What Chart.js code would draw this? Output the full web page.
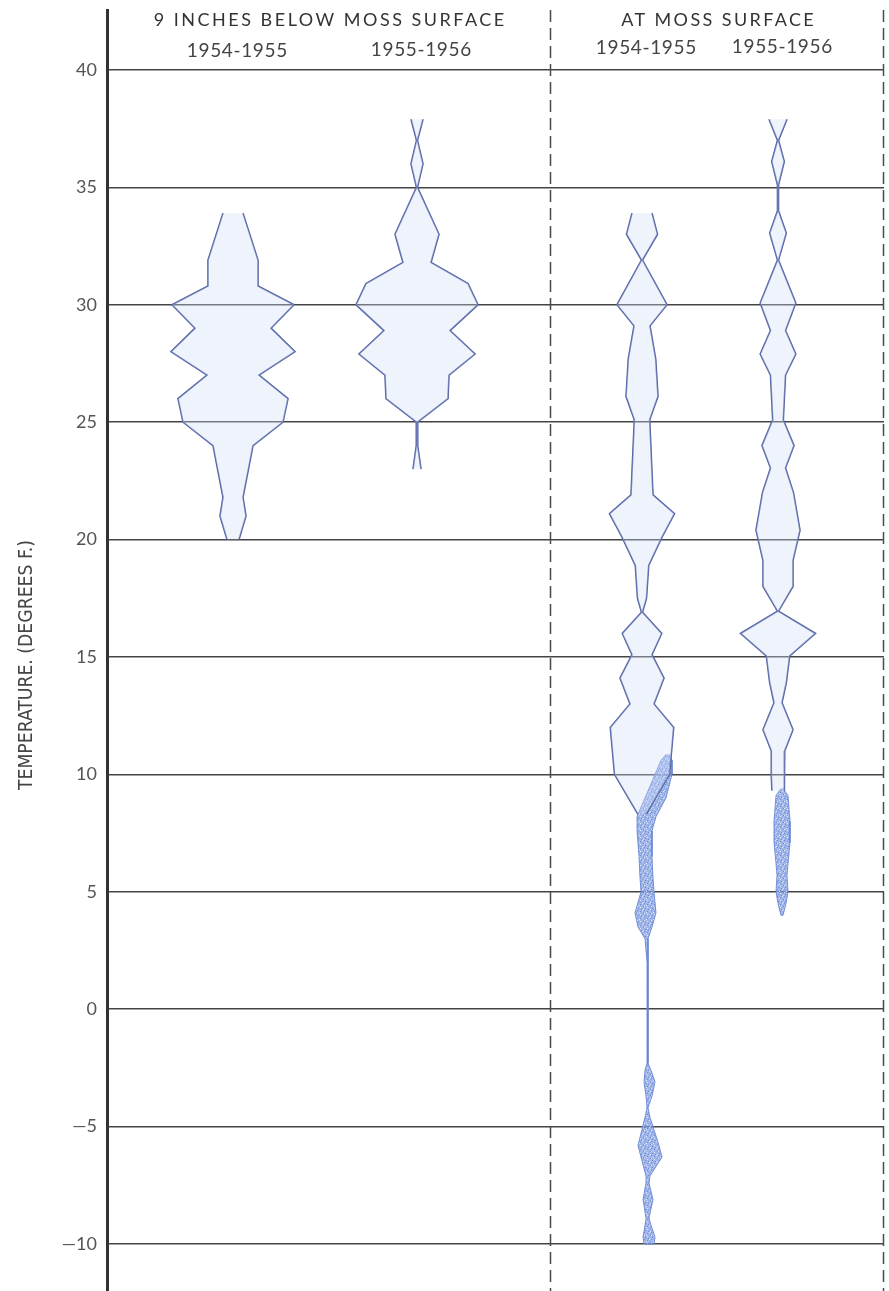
<!DOCTYPE html>
<html>
<head>
<meta charset="utf-8">
<script src="https://cdn.jsdelivr.net/npm/chart.js@4.4.1/dist/chart.umd.min.js"></script>
<style>
  html, body { margin: 0; padding: 0; background: #fff; }
  #wrap { width: 889px; height: 1291px; }
</style>
</head>
<body>
<div id="wrap"><canvas id="mossChart"></canvas></div>
<script>
// temperature axis
const tempTicks = [40, 35, 30, 25, 20, 15, 10, 5, 0, -5, -10];
const tickLabels = ['40', '35', '30', '25', '20', '15', '10', '5', '0', '—5', '—10'];
const groupTitles = ['9 INCHES BELOW MOSS SURFACE', 'AT MOSS SURFACE'];
const seasons = ['1954-1955', '1955-1956', '1954-1955', '1955-1956'];

// kite outlines: temperature (deg F) and half width of the frequency band
const belowTemp54 = [33.9, 31.9, 30.8, 30.0, 29.0, 28.0, 27.0, 26.0, 25.0, 24.0, 21.8, 21.0, 20.0];
const belowWidth54 = [10, 25, 25, 61, 38, 62, 26, 55, 50, 20, 10, 13, 6];

const belowTemp55 = [37.9, 37.0, 36.0, 35.0, 33.0, 31.8, 30.9, 30.0, 28.9, 27.9, 27.0, 26.0, 25.0, 24.0, 23.0];
const belowWidth55 = [6, 0.5, 6, 0.5, 22, 14, 51, 61, 33, 58, 32, 31, 0.5, 0.7, 4];

const surfTemp54 = [33.9, 33.0, 31.9, 30.0, 29.1, 27.7, 26.1, 25.1, 21.9, 21.1, 20.1, 18.9, 17.5, 16.9, 16.0, 15.1, 14.1, 13.0, 12.0, 10.0, 8.3];
const surfWidth54 = [10, 15.5, 0.5, 25, 8, 13.7, 16, 7.7, 11, 32.5, 20, 6.7, 4.5, 0.5, 19.7, 10, 22, 12, 31.7, 27.5, 4];

const surfTemp55 = [37.9, 37.0, 36.1, 35.1, 34.0, 33.05, 31.9, 30.07, 28.9, 27.9, 27.0, 25.1, 24.0, 23.05, 22.0, 20.4, 19.1, 18.0, 16.95, 16.0, 15.04, 13.9, 13.05, 11.9, 11.0, 9.9, 9.3];
const surfWidth55 = [9, 0.5, 6.3, 0.5, 0.5, 8.3, 0.5, 17.8, 7.5, 17.8, 7.5, 5.3, 16, 7.5, 15.5, 22, 15, 15, 0.5, 37.5, 11.7, 8.3, 4, 15, 6.7, 6.7, 6];

// stippled (dense) parts at the moss surface: temperature, half width, drift from column centre
const denseTemp54 = [10.85, 10.6, 10.0, 9.0, 8.2, 7.6, 6.5, 5.6, 5.0, 4.1, 3.5, 3.0, 2.0, -2.3, -2.6, -3.1, -3.7, -4.2, -4.6, -5.8, -6.3, -7.1, -7.4, -8.1, -8.9, -9.2, -9.7, -10.0];
const denseWidth54 = [1.5, 5.5, 8.5, 10.5, 9.5, 7.5, 6.5, 6.5, 6.5, 10.5, 7, 1.5, 0.5, 0.5, 3, 5.5, 3, 0.5, 2.5, 10.5, 10.5, 2, 1.5, 5, 1.5, 3, 6, 5];
const denseDrift54 = [25.5, 24.5, 21.5, 13.5, 4.5, 2.5, 3.5, 4.5, 5.5, 3.5, 3, 4.5, 5.5, 5.5, 6, 7.5, 7, 5.5, 5.5, 6.5, 9.5, 6, 5.5, 6, 5.5, 6, 7, 7];

const denseTemp55 = [9.4, 9.1, 8.0, 7.1, 6.2, 5.7, 5.0, 4.5, 4.0];
const denseWidth55 = [1, 6, 8, 8, 6, 5, 6, 4, 1];
const denseDrift55 = [4, 4, 4, 4, 4, 4, 4, 4, 4];

// layout along the horizontal scale
const columnAt = [126, 310, 535, 671];
const groupSplit = 444;
const xSpan = 777;

const ink = '#5060a2';
const kiteFill = 'rgba(205, 222, 246, 0.35)';

function stipple() {
    const c = document.createElement('canvas');
    c.width = 7; c.height = 7;
    const g = c.getContext('2d');
    g.fillStyle = 'rgba(128, 158, 226, 0.75)';
    g.fillRect(0, 0, 7, 7);
    g.fillStyle = 'rgba(80, 110, 200, 0.6)';
    [[0, 0], [3, 1], [6, 3], [1, 5], [4, 6]].forEach(([x, y]) => g.fillRect(x, y, 1, 1));
    g.fillStyle = 'rgba(240, 245, 255, 0.75)';
    [[2, 2], [5, 0], [0, 3], [3, 4], [6, 6]].forEach(([x, y]) => g.fillRect(x, y, 1, 1));
    return g.createPattern(c, 'repeat');
}

function kite(temps, widths, centre, drift) {
    const mid = i => centre + (drift ? drift[i] : 0);
    const right = temps.map((t, i) => ({ x: mid(i) + widths[i], y: t }));
    const left = temps.map((t, i) => ({ x: mid(i) - widths[i], y: t }));
    return { left, right, shape: right.concat(left.slice().reverse()) };
}

const base = { showLine: true, pointRadius: 0, pointHoverRadius: 0, tension: 0 };
const datasets = [];

[[belowTemp54, belowWidth54], [belowTemp55, belowWidth55], [surfTemp54, surfWidth54], [surfTemp55, surfWidth55]]
    .forEach(([t, w], i) => {
        const k = kite(t, w, columnAt[i]);
        datasets.push({ ...base, data: k.shape, fill: 'shape', backgroundColor: kiteFill, borderColor: 'transparent', borderWidth: 0 });
        datasets.push({ ...base, data: k.left, fill: false, borderColor: ink, borderWidth: 1.6 });
        datasets.push({ ...base, data: k.right, fill: false, borderColor: ink, borderWidth: 1.6 });
    });

const dots = stipple();
[[denseTemp54, denseWidth54, denseDrift54, 2], [denseTemp55, denseWidth55, denseDrift55, 3]]
    .forEach(([t, w, d, col]) => {
        const k = kite(t, w, columnAt[col], d);
        datasets.push({ ...base, data: k.shape, fill: 'shape', backgroundColor: dots, borderColor: 'rgba(100, 130, 210, 0.85)', borderWidth: 1 });
    });

// draws text centred on (cx, cy), stretched or letter-spaced to the given width
function fitText(ctx, text, cx, cy, width, font) {
    ctx.font = font;
    ctx.letterSpacing = '0px';
    const w = ctx.measureText(text).width;
    ctx.save();
    ctx.translate(cx, cy);
    if (w < width) {
        const gap = (width - w) / text.length;
        ctx.letterSpacing = gap.toFixed(2) + 'px';
        ctx.fillText(text, -width / 2 + gap / 2, 0);
    } else {
        ctx.scale(width / w, 1);
        ctx.fillText(text, -w / 2, 0);
    }
    ctx.restore();
    ctx.letterSpacing = '0px';
}

const frame = {
    id: 'frame',
    beforeDatasetsDraw(chart) {
        const { ctx, chartArea, scales: { x } } = chart;
        ctx.save();
        ctx.strokeStyle = '#4a4a4a';
        ctx.lineWidth = 1.5;
        ctx.setLineDash([12, 6]);
        [groupSplit, xSpan].forEach(v => {
            const px = Math.round(x.getPixelForValue(v)) - 0.5;
            ctx.beginPath();
            ctx.moveTo(px, chartArea.top);
            ctx.lineTo(px, chartArea.bottom);
            ctx.stroke();
        });
        ctx.restore();
    },
    afterDraw(chart) {
        const { ctx, scales: { x, y } } = chart;
        const top = y.getPixelForValue(40);
        ctx.save();
        ctx.fillStyle = '#333';
        ctx.textBaseline = 'middle';
        const g1 = (x.getPixelForValue(0) + x.getPixelForValue(groupSplit)) / 2;
        const g2 = (x.getPixelForValue(groupSplit) + x.getPixelForValue(xSpan)) / 2;
        fitText(ctx, groupTitles[0], g1, top - 50, 353, '18px Lato, "DejaVu Sans", sans-serif');
        fitText(ctx, groupTitles[1], g2, top - 50, 195, '18px Lato, "DejaVu Sans", sans-serif');
        ctx.fillStyle = '#444';
        const yearRise = [19, 20, 22, 23];
        seasons.forEach((s, i) => {
            fitText(ctx, s, x.getPixelForValue(columnAt[i]) + 4, top - yearRise[i], 101, '19px Lato, "DejaVu Sans", sans-serif');
        });
        // axis title
        ctx.fillStyle = '#444';
        ctx.save();
        ctx.translate(27, 665);
        ctx.rotate(-Math.PI / 2);
        fitText(ctx, 'TEMPERATURE. (DEGREES F.)', 0, 0, 250, '20px "Liberation Sans Narrow", "DejaVu Sans Condensed", "Liberation Sans", sans-serif');
        ctx.restore();
        ctx.restore();
    }
};

new Chart(document.getElementById('mossChart'), {
    type: 'scatter',
    data: { datasets },
    options: {
        responsive: true,
        maintainAspectRatio: false,
        animation: false,
        layout: { padding: { top: 10, right: 5, bottom: 0, left: 0 } },
        plugins: {
            legend: { display: false },
            tooltip: { enabled: false }
        },
        scales: {
            x: { type: 'linear', min: 0, max: xSpan, display: false },
            y: {
                type: 'linear',
                min: -12,
                max: 42.55,
                afterBuildTicks: scale => { scale.ticks = tempTicks.map(v => ({ value: v })); },
                afterFit: scale => { scale.width = 107; scale.paddingTop = 0; scale.paddingBottom = 0; },
                ticks: {
                    padding: 10,
                    color: '#555',
                    font: { family: 'Lato, "DejaVu Sans", sans-serif', size: 18 },
                    callback: v => tickLabels[tempTicks.indexOf(v)]
                },
                grid: { color: '#444', lineWidth: 1.5, drawTicks: false },
                border: { color: '#333', width: 3 }
            }
        }
    },
    plugins: [frame]
});
</script>
</body>
</html>
